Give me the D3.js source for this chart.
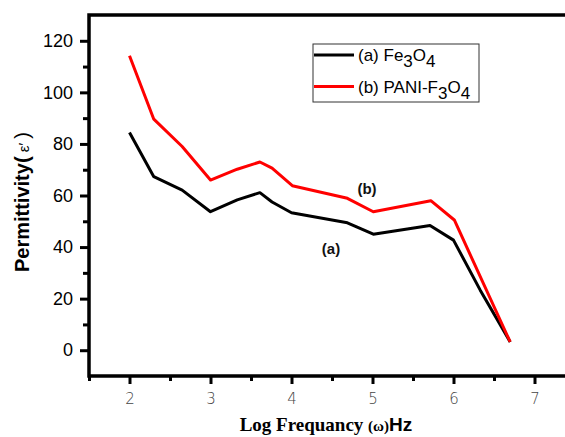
<!DOCTYPE html>
<html>
<head>
<meta charset="utf-8">
<script src="https://cdn.jsdelivr.net/npm/d3@7"></script>
<style>
  body { margin: 0; background: #fff; }
  svg { display: block; }
</style>
</head>
<body>
<div id="chart"></div>
<script>
// chart data
const LOG_FREQ_A = [2, 2.3, 2.65, 3, 3.33, 3.61, 3.76, 4, 4.69, 5.01, 5.71, 6, 6.33, 6.7];
const PERM_A     = [84.4, 67.3, 62.1, 53.7, 58.3, 61.1, 57.5, 53.3, 49.4, 45.0, 48.4, 42.7, 23.3, 3.2];

const LOG_FREQ_B = [2, 2.3, 2.65, 3, 3.33, 3.61, 3.76, 4.01, 4.69, 5.01, 5.72, 6.01, 6.7];
const PERM_B     = [114.2, 89.6, 79.0, 66.0, 70.2, 73.0, 70.6, 63.8, 58.9, 53.7, 58.0, 50.5, 3.2];

const X_TICKS = [2, 3, 4, 5, 6, 7];
const X_MINOR = [1.5, 2.5, 3.5, 4.5, 5.5, 6.5];
const Y_TICKS = [0, 20, 40, 60, 80, 100, 120];
const Y_MINOR = [10, 30, 50, 70, 90, 110];

const SERIES_NAMES = ['a', 'b'];
const SERIES_COLORS = ['#000000', '#ff0000'];

// frame dimensions
const FRAME_WIDTH = 565;
const FRAME_HEIGHT = 437;
const PLOT = {left: 89, top: 15, right: 575, bottom: 376};

const FRAME = d3.select('#chart')
  .append('svg')
    .attr('width', FRAME_WIDTH)
    .attr('height', FRAME_HEIGHT);

// scales
const xscale = d3.scaleLinear()
  .domain([1.5, 7.5])
  .range([PLOT.left, PLOT.right]);
const yscale = d3.scaleLinear()
  .domain([-10, 130])
  .range([PLOT.bottom, PLOT.top]);

// data lines
const line = d3.line()
  .x((d) => xscale(d[0]))
  .y((d) => yscale(d[1]));

const seriesData = [
  LOG_FREQ_A.map((x, i) => [x, PERM_A[i]]),
  LOG_FREQ_B.map((x, i) => [x, PERM_B[i]])
];

FRAME.selectAll('.series')
  .data(seriesData)
  .enter()
  .append('path')
    .attr('class', 'series')
    .attr('d', line)
    .attr('fill', 'none')
    .attr('stroke', (d, i) => SERIES_COLORS[i])
    .attr('stroke-width', 3)
    .attr('stroke-linejoin', 'round');

// axis frame (top, left, bottom)
FRAME.append('path')
  .attr('d', 'M' + FRAME_WIDTH + ',' + PLOT.top + 'H' + PLOT.left + 'V' + PLOT.bottom + 'H' + FRAME_WIDTH)
  .attr('fill', 'none')
  .attr('stroke', '#000')
  .attr('stroke-width', 3.5);

// x axis
const xAxis = FRAME.append('g')
  .attr('transform', 'translate(0,' + PLOT.bottom + ')')
  .call(d3.axisBottom(xscale).tickValues(X_TICKS).tickSize(8).tickPadding(9).tickFormat(d3.format('d')));
xAxis.select('.domain').remove();
xAxis.selectAll('line').attr('stroke', '#000').attr('stroke-width', 3);
xAxis.selectAll('text')
  .attr('font-family', 'DejaVu Sans, sans-serif')
  .attr('font-size', '15px')
  .attr('font-weight', '200')
  .attr('fill', '#444');

const xMinor = FRAME.append('g')
  .attr('transform', 'translate(0,' + PLOT.bottom + ')')
  .call(d3.axisBottom(xscale).tickValues(X_MINOR).tickSize(5).tickFormat(''));
xMinor.select('.domain').remove();
xMinor.selectAll('line').attr('stroke', '#000').attr('stroke-width', 3);

// y axis
const yAxis = FRAME.append('g')
  .attr('transform', 'translate(' + PLOT.left + ',0)')
  .call(d3.axisLeft(yscale).tickValues(Y_TICKS).tickSize(9).tickPadding(7));
yAxis.select('.domain').remove();
yAxis.selectAll('line').attr('stroke', '#000').attr('stroke-width', 3);
yAxis.selectAll('text')
  .attr('font-family', 'Liberation Sans, Arial, sans-serif')
  .attr('font-size', '18px')
  .attr('fill', '#000');

const yMinor = FRAME.append('g')
  .attr('transform', 'translate(' + PLOT.left + ',0)')
  .call(d3.axisLeft(yscale).tickValues(Y_MINOR).tickSize(6).tickFormat(''));
yMinor.select('.domain').remove();
yMinor.selectAll('line').attr('stroke', '#000').attr('stroke-width', 3);

// axis titles
const yTitle = FRAME.append('text')
  .attr('transform', 'translate(29,202) rotate(-90)')
  .attr('text-anchor', 'middle')
  .attr('font-family', 'Liberation Sans, Arial, sans-serif')
  .attr('font-size', '20px')
  .attr('font-weight', 'bold');
yTitle.append('tspan').text('Permittivity(');
yTitle.append('tspan').attr('font-weight', 'normal').attr('font-size', '15px').text(' ε′ ');
yTitle.append('tspan').attr('font-weight', 'normal').text(')');

const xTitle = FRAME.append('text')
  .attr('x', 326)
  .attr('y', 431)
  .attr('text-anchor', 'middle')
  .attr('font-family', 'Liberation Serif, Times New Roman, serif')
  .attr('font-size', '19px')
  .attr('font-weight', 'bold');
xTitle.append('tspan').text('Log Frequancy ');
xTitle.append('tspan').attr('font-size', '15px').text('(ω)');
xTitle.append('tspan').attr('font-family', 'Liberation Sans, Arial, sans-serif').text('Hz');

// curve labels
FRAME.append('text')
  .attr('x', 367).attr('y', 194)
  .attr('text-anchor', 'middle')
  .attr('font-family', 'Liberation Sans, Arial, sans-serif')
  .attr('font-size', '15px')
  .attr('font-weight', 'bold')
  .attr('fill', '#111')
  .text('(b)');
FRAME.append('text')
  .attr('x', 331).attr('y', 254)
  .attr('text-anchor', 'middle')
  .attr('font-family', 'Liberation Sans, Arial, sans-serif')
  .attr('font-size', '15px')
  .attr('font-weight', 'bold')
  .attr('fill', '#111')
  .text('(a)');

// legend
const LEGEND = FRAME.append('g').attr('transform', 'translate(313,44)');
LEGEND.append('rect')
  .attr('width', 166)
  .attr('height', 58)
  .attr('fill', '#fff')
  .attr('stroke', '#333')
  .attr('stroke-width', 1);

const legendRows = LEGEND.selectAll('.row')
  .data(SERIES_NAMES)
  .enter()
  .append('g')
    .attr('class', 'row')
    .attr('transform', (d, i) => 'translate(0,' + (11 + i * 31.5) + ')');

legendRows.append('line')
  .attr('x1', 1).attr('x2', 41)
  .attr('stroke', (d, i) => SERIES_COLORS[i])
  .attr('stroke-width', 3);

const legendText = legendRows.append('text')
  .attr('x', 45)
  .attr('y', 6)
  .attr('font-family', 'Liberation Sans, Arial, sans-serif')
  .attr('font-size', '17px')
  .attr('fill', '#000');

legendText.each(function(d) {
  const t = d3.select(this);
  if (d === 'a') {
    t.append('tspan').text('(a) Fe');
  } else {
    t.append('tspan').text('(b) PANI-F');
  }
  t.append('tspan').attr('dy', 6).text('3');
  t.append('tspan').attr('dy', -6).text('O');
  t.append('tspan').attr('dy', 6).text('4');
});
</script>
</body>
</html>
